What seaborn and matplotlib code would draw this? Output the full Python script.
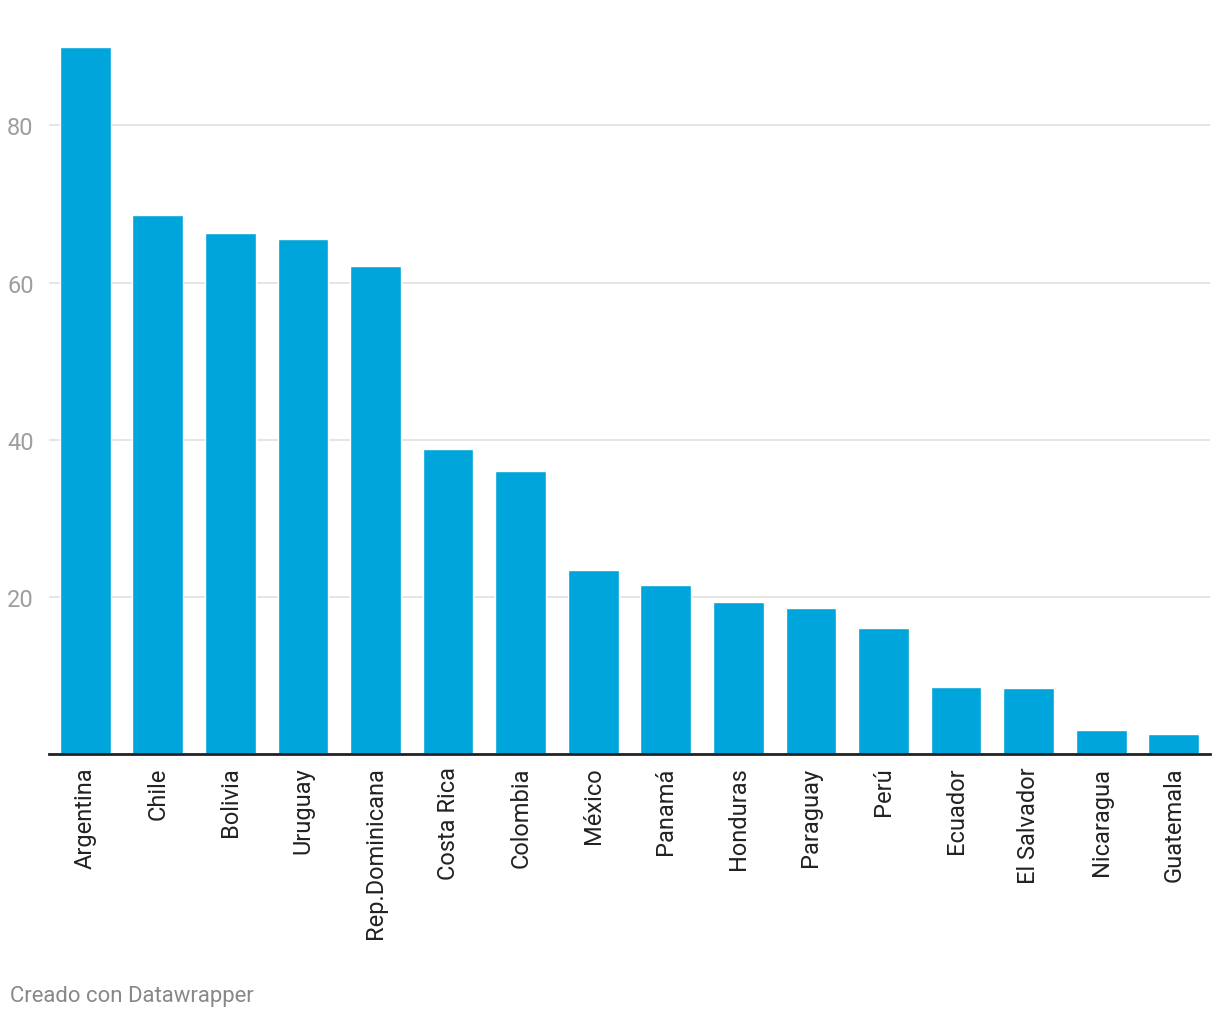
import matplotlib
matplotlib.use('Agg')
import matplotlib.pyplot as plt
import pandas as pd
import seaborn as sns

countries = ['Argentina', 'Chile', 'Bolivia', 'Uruguay', 'Rep.Dominicana', 'Costa Rica',
             'Colombia', 'México', 'Panamá', 'Honduras', 'Paraguay', 'Perú', 'Ecuador',
             'El Salvador', 'Nicaragua', 'Guatemala']
values = [90.0, 68.6, 66.3, 65.5, 62.1, 38.8, 36.0, 23.4, 21.5, 19.3, 18.6, 16.0, 8.5, 8.4,
          3.0, 2.5]
y_ticks = [20, 40, 60, 80]

sns.set_theme(style='white')
plt.rcParams['font.family'] = ['Roboto', 'DejaVu Sans']

df = pd.DataFrame({'country': countries, 'value': values})

fig = plt.figure(figsize=(12.2, 10.2), dpi=100)
ax = fig.add_axes([49 / 1220, 1 - 755 / 1020, (1210 - 49) / 1220, (755 - 40) / 1020])

sns.barplot(data=df, x='country', y='value', color='#00a5dc', saturation=1, width=0.7,
            ax=ax, zorder=3)

ax.set_xlim(-0.5, 15.5)
ax.set_ylim(0, 91)
ax.set_yticks(y_ticks)
ax.yaxis.grid(True, color='#e0e0e0', linewidth=1.2, zorder=0)
ax.set_xlabel('')
ax.set_ylabel('')

for side in ['top', 'right', 'left']:
    ax.spines[side].set_visible(False)
ax.spines['bottom'].set_color('#222222')
ax.spines['bottom'].set_linewidth(2)
ax.spines['bottom'].set_zorder(4)

ax.tick_params(axis='y', length=0, pad=11, labelsize=17, labelcolor='#9e9e9e')
ax.tick_params(axis='x', length=0, pad=9, labelsize=17, labelcolor='#222222')
plt.setp(ax.get_xticklabels(), rotation=90, va='top', ha='center')

fig.text(10 / 1220, 1 - 997 / 1020, 'Creado con Datawrapper', fontsize=15.9, color='#888888',
         va='center', ha='left')

fig.savefig('out.png', dpi=100)
